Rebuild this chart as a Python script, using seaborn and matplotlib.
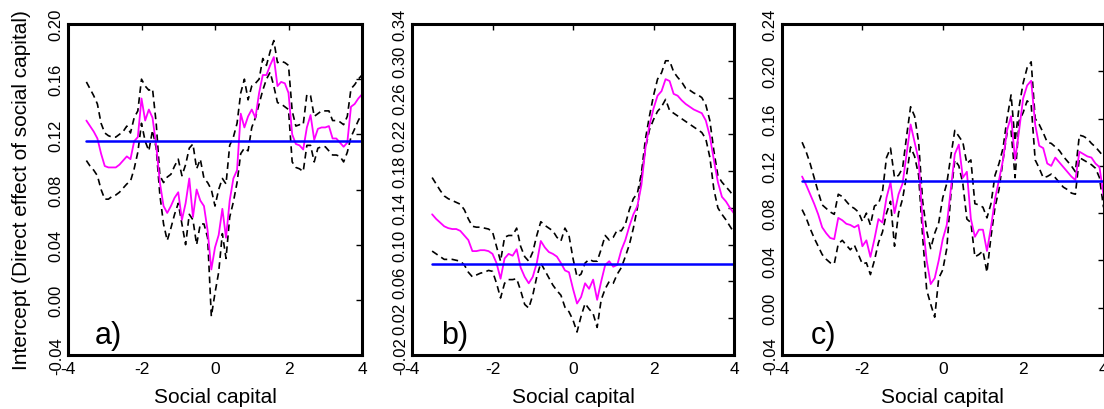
import numpy as np
import pandas as pd
import matplotlib
matplotlib.use("Agg")
import matplotlib.pyplot as plt
import seaborn as sns
from matplotlib import font_manager

# ---------------- data ----------------
x_vals = [-3.5, -3.4, -3.3, -3.2, -3.1, -3.0, -2.9, -2.8, -2.7, -2.6,
          -2.5, -2.4, -2.3, -2.2, -2.1, -2.0, -1.9, -1.8, -1.7, -1.6,
          -1.5, -1.4, -1.3, -1.2, -1.1, -1.0, -0.9, -0.8, -0.7, -0.6,
          -0.5, -0.4, -0.3, -0.2, -0.1, 0.0, 0.1, 0.2, 0.3, 0.4,
          0.5, 0.6, 0.7, 0.8, 0.9, 1.0, 1.1, 1.2, 1.3, 1.4,
          1.5, 1.6, 1.7, 1.8, 1.9, 2.0, 2.1, 2.2, 2.3, 2.4,
          2.5, 2.6, 2.7, 2.8, 2.9, 3.0, 3.1, 3.2, 3.3, 3.4,
          3.5, 3.6, 3.7, 3.8, 3.9, 4.0]

# panel a
a_upper = [0.158, 0.153, 0.148, 0.142, 0.128, 0.121, 0.119, 0.118, 0.118, 0.120,
           0.122, 0.126, 0.121, 0.132, 0.137, 0.160, 0.155, 0.152, 0.153, 0.128,
           0.090, 0.085, 0.089, 0.091, 0.097, 0.102, 0.090, 0.098, 0.110, 0.113,
           0.095, 0.102, 0.088, 0.085, 0.080, 0.068, 0.080, 0.088, 0.084, 0.112,
           0.118, 0.128, 0.150, 0.160, 0.145, 0.155, 0.157, 0.160, 0.175, 0.170,
           0.180, 0.188, 0.172, 0.173, 0.172, 0.170, 0.137, 0.126, 0.127, 0.127,
           0.149, 0.148, 0.133, 0.135, 0.137, 0.137, 0.137, 0.130, 0.130, 0.129,
           0.127, 0.133, 0.153, 0.156, 0.160, 0.163]
a_mean = [0.130, 0.126, 0.122, 0.117, 0.106, 0.097, 0.096, 0.096, 0.096, 0.098,
          0.101, 0.104, 0.102, 0.115, 0.118, 0.146, 0.130, 0.138, 0.132, 0.112,
          0.085, 0.068, 0.063, 0.068, 0.074, 0.078, 0.058, 0.070, 0.088, 0.060,
          0.080, 0.072, 0.068, 0.050, 0.022, 0.038, 0.047, 0.066, 0.045, 0.072,
          0.088, 0.094, 0.135, 0.125, 0.133, 0.138, 0.132, 0.150, 0.163, 0.163,
          0.170, 0.176, 0.155, 0.158, 0.157, 0.150, 0.120, 0.113, 0.112, 0.109,
          0.125, 0.134, 0.116, 0.124, 0.125, 0.125, 0.126, 0.117, 0.117, 0.114,
          0.111, 0.114, 0.140, 0.142, 0.146, 0.149]
a_lower = [0.101, 0.097, 0.094, 0.090, 0.080, 0.073, 0.073, 0.075, 0.076, 0.078,
           0.081, 0.084, 0.086, 0.095, 0.107, 0.128, 0.115, 0.108, 0.123, 0.110,
           0.076, 0.055, 0.043, 0.052, 0.062, 0.070, 0.055, 0.040, 0.062, 0.058,
           0.040, 0.055, 0.055, 0.045, -0.012, 0.005, 0.020, 0.048, 0.030, 0.060,
           0.071, 0.085, 0.106, 0.110, 0.108, 0.125, 0.132, 0.142, 0.152, 0.160,
           0.165, 0.155, 0.143, 0.142, 0.140, 0.138, 0.100, 0.096, 0.095, 0.093,
           0.112, 0.112, 0.100, 0.110, 0.111, 0.111, 0.108, 0.105, 0.105, 0.104,
           0.100, 0.107, 0.118, 0.124, 0.130, 0.135]
a_global = 0.115

# panel b
b_upper = [0.173, 0.166, 0.159, 0.153, 0.150, 0.148, 0.146, 0.144, 0.138, 0.128,
           0.120, 0.119, 0.119, 0.118, 0.117, 0.114, 0.098, 0.082, 0.108, 0.110,
           0.110, 0.118, 0.098, 0.087, 0.082, 0.092, 0.110, 0.125, 0.121, 0.118,
           0.115, 0.108, 0.104, 0.118, 0.110, 0.085, 0.065, 0.068, 0.080, 0.084,
           0.082, 0.082, 0.095, 0.110, 0.105, 0.108, 0.116, 0.115, 0.122, 0.138,
           0.150, 0.156, 0.178, 0.215, 0.240, 0.262, 0.280, 0.287, 0.300, 0.300,
           0.288, 0.282, 0.277, 0.270, 0.268, 0.265, 0.263, 0.260, 0.252, 0.235,
           0.202, 0.175, 0.168, 0.163, 0.158, 0.152]
b_mean = [0.133, 0.128, 0.124, 0.120, 0.118, 0.117, 0.117, 0.115, 0.110, 0.105,
          0.093, 0.093, 0.094, 0.094, 0.093, 0.090, 0.080, 0.063, 0.085, 0.090,
          0.088, 0.095, 0.075, 0.065, 0.058, 0.065, 0.080, 0.104, 0.097, 0.092,
          0.090, 0.087, 0.080, 0.072, 0.070, 0.052, 0.036, 0.043, 0.058, 0.052,
          0.062, 0.040, 0.060, 0.078, 0.082, 0.076, 0.078, 0.094, 0.105, 0.120,
          0.133, 0.142, 0.165, 0.205, 0.230, 0.248, 0.262, 0.267, 0.280, 0.278,
          0.264, 0.262, 0.257, 0.253, 0.250, 0.247, 0.245, 0.243, 0.235, 0.218,
          0.192, 0.168, 0.152, 0.147, 0.140, 0.134]
b_lower = [0.093, 0.090, 0.087, 0.084, 0.084, 0.084, 0.083, 0.082, 0.078, 0.070,
           0.065, 0.067, 0.069, 0.070, 0.072, 0.071, 0.058, 0.042, 0.058, 0.062,
           0.062, 0.063, 0.050, 0.035, 0.031, 0.045, 0.065, 0.080, 0.072, 0.064,
           0.056, 0.050, 0.045, 0.032, 0.027, 0.018, 0.005, 0.022, 0.036, 0.030,
           0.025, 0.010, 0.040, 0.052, 0.060, 0.058, 0.068, 0.075, 0.087, 0.100,
           0.118, 0.140, 0.173, 0.205, 0.225, 0.236, 0.245, 0.250, 0.258, 0.246,
           0.243, 0.240, 0.237, 0.234, 0.231, 0.228, 0.225, 0.222, 0.215, 0.195,
           0.160, 0.140, 0.133, 0.127, 0.120, 0.113]
b_global = 0.079

# panel c
c_upper = [0.140, 0.132, 0.122, 0.110, 0.098, 0.087, 0.084, 0.081, 0.079, 0.096,
           0.094, 0.090, 0.086, 0.084, 0.081, 0.073, 0.080, 0.070, 0.086, 0.088,
           0.098, 0.127, 0.135, 0.110, 0.112, 0.118, 0.145, 0.170, 0.162, 0.140,
           0.090, 0.065, 0.050, 0.063, 0.072, 0.093, 0.105, 0.128, 0.150, 0.145,
           0.140, 0.122, 0.125, 0.088, 0.087, 0.085, 0.076, 0.088, 0.112, 0.122,
           0.135, 0.160, 0.180, 0.141, 0.170, 0.190, 0.203, 0.208, 0.160, 0.155,
           0.148, 0.140, 0.139, 0.136, 0.133, 0.128, 0.124, 0.120, 0.115, 0.146,
           0.145, 0.143, 0.139, 0.136, 0.132, 0.128]
c_mean = [0.111, 0.104, 0.096, 0.088, 0.079, 0.068, 0.063, 0.059, 0.058, 0.076,
          0.074, 0.071, 0.070, 0.068, 0.070, 0.052, 0.057, 0.043, 0.058, 0.075,
          0.072, 0.093, 0.106, 0.080, 0.096, 0.105, 0.130, 0.155, 0.140, 0.125,
          0.072, 0.040, 0.020, 0.025, 0.040, 0.058, 0.070, 0.100, 0.130, 0.138,
          0.110, 0.115, 0.075, 0.060, 0.066, 0.066, 0.048, 0.068, 0.092, 0.108,
          0.125, 0.150, 0.162, 0.125, 0.150, 0.177, 0.188, 0.192, 0.155, 0.137,
          0.135, 0.122, 0.120, 0.127, 0.123, 0.119, 0.115, 0.111, 0.108, 0.132,
          0.130, 0.128, 0.127, 0.122, 0.119, 0.095]
c_lower = [0.083, 0.076, 0.067, 0.059, 0.052, 0.045, 0.041, 0.038, 0.037, 0.054,
           0.057, 0.053, 0.049, 0.053, 0.045, 0.037, 0.038, 0.028, 0.040, 0.055,
           0.064, 0.080, 0.090, 0.052, 0.080, 0.092, 0.112, 0.136, 0.128, 0.112,
           0.060, 0.015, 0.003, -0.008, 0.025, 0.032, 0.050, 0.095, 0.125, 0.120,
           0.105, 0.075, 0.072, 0.043, 0.045, 0.048, 0.030, 0.060, 0.085, 0.100,
           0.125, 0.148, 0.150, 0.110, 0.158, 0.165, 0.175, 0.172, 0.125, 0.118,
           0.110, 0.111, 0.113, 0.110, 0.106, 0.102, 0.100, 0.097, 0.096, 0.127,
           0.125, 0.123, 0.121, 0.118, 0.110, 0.085]
c_global = 0.107

panel_labels = ["a)", "b)", "c)"]
x_ticks = [-4, -2, 0, 2, 4]
x_ticklabels = ["-4", "-2", "0", "2", "4"]
a_yticks = [-0.04, 0.00, 0.04, 0.08, 0.12, 0.16, 0.20]
b_yticks = [-0.02, 0.02, 0.06, 0.10, 0.14, 0.18, 0.22, 0.26, 0.30, 0.34]
c_yticks = [-0.04, 0.00, 0.04, 0.08, 0.12, 0.16, 0.20, 0.24]
x_label = "Social capital"
y_label = "Intercept (Direct effect of social capital)"

# ---------------- style ----------------
sns.set_theme(style="white")
plt.rcParams["font.family"] = ["Liberation Sans", "DejaVu Sans"]
plt.rcParams["axes.unicode_minus"] = False

names = {f.name for f in font_manager.fontManager.ttflist}
ytick_family = ["Liberation Sans Narrow", "Liberation Sans"] if "Liberation Sans Narrow" in names else ["Liberation Sans"]

W, H = 1104, 410
fig = plt.figure(figsize=(W / 100, H / 100), dpi=100)

def px_axes(left, right, top, bottom):
    return fig.add_axes([left / W, 1 - bottom / H, (right - left) / W, (bottom - top) / H])

axes = [px_axes(68, 362, 25, 356), px_axes(412, 734, 25, 356), px_axes(782, 1103.5, 25, 356)]
panels = [
    (a_upper, a_mean, a_lower, a_global, a_yticks),
    (b_upper, b_mean, b_lower, b_global, b_yticks),
    (c_upper, c_mean, c_lower, c_global, c_yticks),
]

dash = (0, (4, 2.6))
for i, (ax, (up, mn, lo, gl, yt)) in enumerate(zip(axes, panels)):
    df = pd.DataFrame({"x": x_vals, "upper": up, "mean": mn, "lower": lo})
    sns.lineplot(data=df, x="x", y="upper", ax=ax, color="black", lw=1.2,
                 linestyle=dash, estimator=None, sort=False)
    sns.lineplot(data=df, x="x", y="lower", ax=ax, color="black", lw=1.2,
                 linestyle=dash, estimator=None, sort=False)
    sns.lineplot(data=df, x="x", y="mean", ax=ax, color="#ff00ff", lw=1.3,
                 estimator=None, sort=False)
    gdf = pd.DataFrame({"x": [x_vals[0], x_vals[-1]], "y": [gl, gl]})
    sns.lineplot(data=gdf, x="x", y="y", ax=ax, color="#0000ff", lw=1.8,
                 estimator=None, sort=False)

    ax.set_xlim(-4, 4)
    ax.set_ylim(yt[0], yt[-1])
    ax.set_xticks(x_ticks)
    ax.set_xticklabels(x_ticklabels, fontsize=12.5)
    ax.set_yticks(yt)
    ax.set_yticklabels([f"{t:.2f}" for t in yt], rotation=90, va="center",
                       fontsize=12, family=ytick_family)
    ax.tick_params(axis="both", direction="in", top=True, right=True,
                   length=4, width=1, color="black", labelcolor="black")
    ax.tick_params(axis="x", pad=4)
    ax.tick_params(axis="y", pad=3)
    for s in ax.spines.values():
        s.set_visible(True)
        s.set_color("black")
        s.set_linewidth(2.2)
    ax.set_xlabel(x_label, fontsize=15, color="black")
    ax.xaxis.set_label_coords(0.5, -0.098)
    if i == 0:
        ax.set_ylabel(y_label, fontsize=15, color="black")
        ax.yaxis.set_label_coords(-0.126, 0.5)
    else:
        ax.set_ylabel("")
    ax.text(0.09, 0.035, panel_labels[i], transform=ax.transAxes,
            fontsize=22, color="black", ha="left", va="baseline")
    ax.grid(False)
    ax.set_facecolor("white")

fig.savefig("out.png", dpi=100, facecolor="white")
